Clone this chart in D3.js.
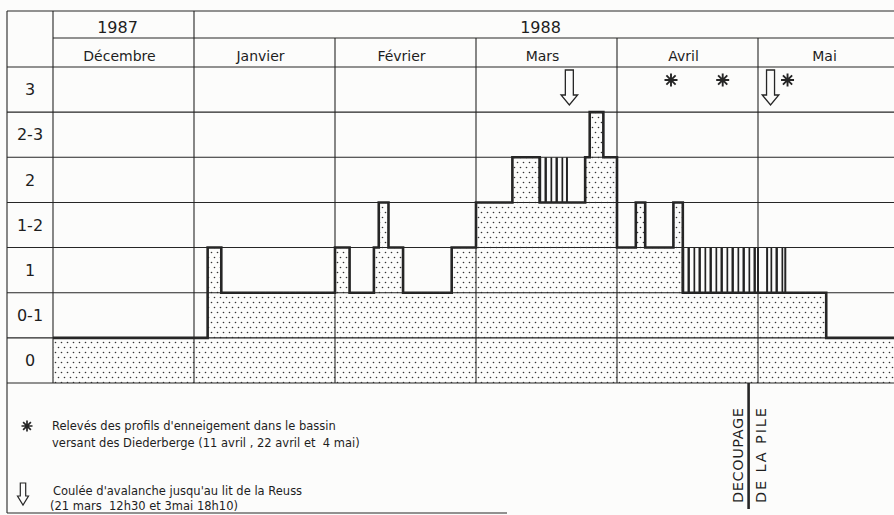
<!DOCTYPE html>
<html>
<head>
<meta charset="utf-8">
<script src="https://cdn.jsdelivr.net/npm/d3@7"></script>
<style>
  body { margin: 0; background: #fcfcfb; }
  svg text { font-family: "DejaVu Sans", sans-serif; fill: #1e1e1e; white-space: pre; }
</style>
</head>
<body>
<div id="chart"></div>
<script>
// Chart data
var years = ["1987", "1988"];
var yearMonths = [1, 5];
var months = ["Décembre", "Janvier", "Février", "Mars", "Avril", "Mai"];
var levels = ["0", "0-1", "1", "1-2", "2", "2-3", "3"];

// snow level: date each step starts and its level
var stepDates = ["1987-12-01", "1988-01-04", "1988-01-07", "1988-02-01", "1988-02-04",
  "1988-02-09", "1988-02-10", "1988-02-12", "1988-02-15", "1988-02-25",
  "1988-03-01", "1988-03-09", "1988-03-15", "1988-03-25", "1988-03-26", "1988-03-29",
  "1988-04-01", "1988-04-05", "1988-04-07", "1988-04-13", "1988-04-15",
  "1988-05-16", "1988-06-01"];
var stepLevels = ["0", "1", "0-1", "1", "0-1",
  "1", "1-2", "1", "0-1", "1",
  "1-2", "2", "1-2", "2", "2-3", "2",
  "1", "1-2", "1", "1-2", "0-1",
  "0", "0"];

// hatched blocks (vertical lines)
var wetStart = ["1988-03-15", "1988-04-15", "1988-05-03"];
var wetEnd = ["1988-03-21", "1988-05-01", "1988-05-07"];
var wetLevels = ["2", "1", "1"];

// events
var avalanches = ["1988-03-21T12:30", "1988-05-03T18:10"];
var profiles = ["1988-04-11", "1988-04-22", "1988-05-04"];
var cutDate = "1988-04-29";
var cutLabels = ["DECOUPAGE", "DE LA PILE"];

var legendStar = ["Relevés des profils d'enneigement dans le bassin",
  "versant des Diederberge (11 avril , 22 avril et  4 mai)"];
var legendArrow = ["Coulée d'avalanche jusqu'au lit de la Reuss",
  "(21 mars  12h30 et 3mai 18h10)"];

// Define SVG area and grid frame
var svgWidth = 894;
var svgHeight = 515;
var frame = { left: 7, labelRight: 53, top: 11, yearBottom: 38, headBottom: 67,
  gridBottom: 383, bottom: 513, bottomRight: 507 };
var ink = "#262626";

var svg = d3.select("#chart")
  .append("svg")
  .attr("width", svgWidth)
  .attr("height", svgHeight);

// patterns
var defs = svg.append("defs");
var dots = defs.append("pattern")
  .attr("id", "dots")
  .attr("patternUnits", "userSpaceOnUse")
  .attr("width", 6)
  .attr("height", 10);
dots.append("circle").attr("cx", 1.5).attr("cy", 2.5).attr("r", 0.8).attr("fill", "#333");
dots.append("circle").attr("cx", 4.5).attr("cy", 7.5).attr("r", 0.8).attr("fill", "#333");

var hatch = defs.append("pattern")
  .attr("id", "hatch")
  .attr("patternUnits", "userSpaceOnUse")
  .attr("width", 11)
  .attr("height", 10);
hatch.append("rect").attr("x", 0.5).attr("width", 1.7).attr("height", 10).attr("fill", "#222");
hatch.append("rect").attr("x", 5.5).attr("width", 2.4).attr("height", 10).attr("fill", "#222");

// date -> month position (0 = 1 Dec 1987), each month the same width
var parseDay = d3.timeParse("%Y-%m-%d");
var parseTime = d3.timeParse("%Y-%m-%dT%H:%M");
function monthPos(s) {
  var d = parseTime(s) || parseDay(s);
  var m = (d.getFullYear() - 1987) * 12 + d.getMonth() - 11;
  var days = new Date(d.getFullYear(), d.getMonth() + 1, 0).getDate();
  return m + (d.getDate() - 1 + d.getHours() / 24 + d.getMinutes() / 1440) / days;
}

// scales
var xScale = d3.scaleLinear()
  .domain([0, months.length])
  .range([frame.labelRight, frame.labelRight + 141 * months.length]);

var yScale = d3.scaleBand()
  .domain(levels)
  .range([frame.gridBottom, frame.headBottom]);

var steps = stepDates.map(function(d, i) {
  return { t: monthPos(d), level: stepLevels[i] };
});

// dotted snow area
var area = d3.area()
  .curve(d3.curveStepAfter)
  .x(d => xScale(d.t))
  .y0(frame.gridBottom)
  .y1(d => yScale(d.level));

svg.append("path")
  .datum(steps)
  .attr("d", area)
  .attr("fill", "url(#dots)");

// hatched blocks
var wet = wetStart.map(function(d, i) {
  return { t0: monthPos(d), t1: monthPos(wetEnd[i]), level: wetLevels[i] };
});
svg.selectAll(".wet")
  .data(wet)
  .enter()
  .append("rect")
  .attr("class", "wet")
  .attr("x", d => xScale(d.t0))
  .attr("y", d => yScale(d.level))
  .attr("width", d => xScale(d.t1) - xScale(d.t0))
  .attr("height", yScale.bandwidth())
  .attr("fill", "url(#hatch)");

svg.selectAll(".wetEdge")
  .data(wet.flatMap(d => [d.t0, d.t1].map(t => ({ t: t, level: d.level }))))
  .enter()
  .append("line")
  .attr("x1", d => xScale(d.t))
  .attr("x2", d => xScale(d.t))
  .attr("y1", d => yScale(d.level))
  .attr("y2", d => yScale(d.level) + yScale.bandwidth())
  .attr("stroke", ink)
  .attr("stroke-width", 2);

// grid
var grid = svg.append("g")
  .attr("stroke", ink)
  .attr("stroke-width", 1.1);

// row lines
grid.selectAll(".row")
  .data(levels.map(l => yScale(l)).concat([frame.gridBottom]))
  .enter()
  .append("line")
  .attr("x1", frame.left)
  .attr("x2", svgWidth)
  .attr("y1", d => d)
  .attr("y2", d => d);

grid.append("line")
  .attr("x1", frame.left).attr("x2", svgWidth)
  .attr("y1", frame.top).attr("y2", frame.top);
grid.append("line")
  .attr("x1", frame.labelRight).attr("x2", svgWidth)
  .attr("y1", frame.yearBottom).attr("y2", frame.yearBottom);
grid.append("line")
  .attr("x1", frame.left).attr("x2", frame.bottomRight)
  .attr("y1", frame.bottom).attr("y2", frame.bottom);
grid.append("line")
  .attr("x1", frame.left).attr("x2", frame.left)
  .attr("y1", frame.top).attr("y2", frame.bottom);
grid.append("line")
  .attr("x1", frame.labelRight).attr("x2", frame.labelRight)
  .attr("y1", frame.top).attr("y2", frame.gridBottom);

// month dividers (year divider runs through the year row)
var yearEdges = Array.from(d3.cumsum(yearMonths));
grid.selectAll(".month")
  .data(d3.range(1, months.length))
  .enter()
  .append("line")
  .attr("x1", d => xScale(d))
  .attr("x2", d => xScale(d))
  .attr("y1", d => yearEdges.indexOf(d) >= 0 ? frame.top : frame.yearBottom)
  .attr("y2", frame.gridBottom);

// step outline
var line = d3.line()
  .curve(d3.curveStepAfter)
  .x(d => xScale(d.t))
  .y(d => yScale(d.level));

svg.append("path")
  .datum(steps)
  .attr("d", line)
  .attr("fill", "none")
  .attr("stroke", ink)
  .attr("stroke-width", 2.6)
  .attr("stroke-linejoin", "miter");

// header texts
var yearStart = [0].concat(yearEdges);
svg.selectAll(".year")
  .data(years)
  .enter()
  .append("text")
  .attr("x", (d, i) => (xScale(yearStart[i]) + xScale(yearStart[i + 1])) / 2 - 6)
  .attr("y", 33)
  .attr("text-anchor", "middle")
  .attr("font-size", 16)
  .text(d => d);

svg.selectAll(".monthLabel")
  .data(months)
  .enter()
  .append("text")
  .attr("x", (d, i) => (xScale(i) + xScale(i + 1)) / 2 - 4)
  .attr("y", 61)
  .attr("text-anchor", "middle")
  .attr("font-size", 14)
  .text(d => d);

svg.selectAll(".levelLabel")
  .data(levels)
  .enter()
  .append("text")
  .attr("x", (frame.left + frame.labelRight) / 2)
  .attr("y", d => yScale(d) + yScale.bandwidth() / 2)
  .attr("dy", "0.36em")
  .attr("text-anchor", "middle")
  .attr("font-size", 16)
  .text(d => d);

// symbols
function starPath(r) {
  var p = "";
  [0, 45, 90, 135].forEach(function(a) {
    var dx = r * Math.cos(a * Math.PI / 180), dy = r * Math.sin(a * Math.PI / 180);
    p += "M" + (-dx) + "," + (-dy) + "L" + dx + "," + dy;
  });
  return p;
}
function arrowPath(w, hw, shaft, tip) {
  return "M" + (-w) + ",0L" + w + ",0L" + w + "," + shaft + "L" + hw + "," + shaft +
    "L0," + tip + "L" + (-hw) + "," + shaft + "L" + (-w) + "," + shaft + "Z";
}

var arrowX = avalanches.map(d => xScale(monthPos(d)));
svg.selectAll(".avalanche")
  .data(arrowX)
  .enter()
  .append("path")
  .attr("transform", d => `translate(${d}, 70)`)
  .attr("d", arrowPath(4, 8.3, 25, 35))
  .attr("fill", "none")
  .attr("stroke", ink)
  .attr("stroke-width", 1.3);

svg.selectAll(".profile")
  .data(profiles)
  .enter()
  .append("path")
  .attr("transform", function(d) {
    var px = xScale(monthPos(d)) + 7;
    // keep the star clear of an arrow on the same day
    arrowX.forEach(function(a) { if (Math.abs(px - a) < 14) px = a + 17; });
    return `translate(${px}, 80)`;
  })
  .attr("d", starPath(6.5))
  .attr("stroke", ink)
  .attr("stroke-width", 1.9);

// pile cut
var cutX = xScale(monthPos(cutDate));
svg.append("line")
  .attr("x1", cutX).attr("x2", cutX)
  .attr("y1", frame.gridBottom).attr("y2", 509)
  .attr("stroke", ink)
  .attr("stroke-width", 2.6);

svg.selectAll(".cutLabel")
  .data(cutLabels)
  .enter()
  .append("text")
  .attr("transform", (d, i) => `translate(${cutX + (i === 0 ? -6 : 17)}, 503) rotate(-90)`)
  .attr("font-family", "'Liberation Sans', Arial, sans-serif")
  .attr("font-size", 14.5)
  .attr("textLength", 95)
  .attr("lengthAdjust", "spacing")
  .text(d => d);

// legend
svg.append("path")
  .attr("transform", "translate(27, 426)")
  .attr("d", starPath(5.5))
  .attr("stroke", ink)
  .attr("stroke-width", 1.7);

svg.append("path")
  .attr("transform", "translate(23, 483)")
  .attr("d", arrowPath(2.7, 5.5, 13, 22))
  .attr("fill", "none")
  .attr("stroke", ink)
  .attr("stroke-width", 1.2);

svg.selectAll(".legStar")
  .data(legendStar)
  .enter()
  .append("text")
  .attr("x", 52)
  .attr("y", (d, i) => 430 + i * 17)
  .attr("font-size", 11.5)
  .text(d => d);

svg.selectAll(".legArrow")
  .data(legendArrow)
  .enter()
  .append("text")
  .attr("x", (d, i) => i === 0 ? 53 : 50)
  .attr("y", (d, i) => 495 + i * 15)
  .attr("font-size", 11.5)
  .text(d => d);
</script>
</body>
</html>
